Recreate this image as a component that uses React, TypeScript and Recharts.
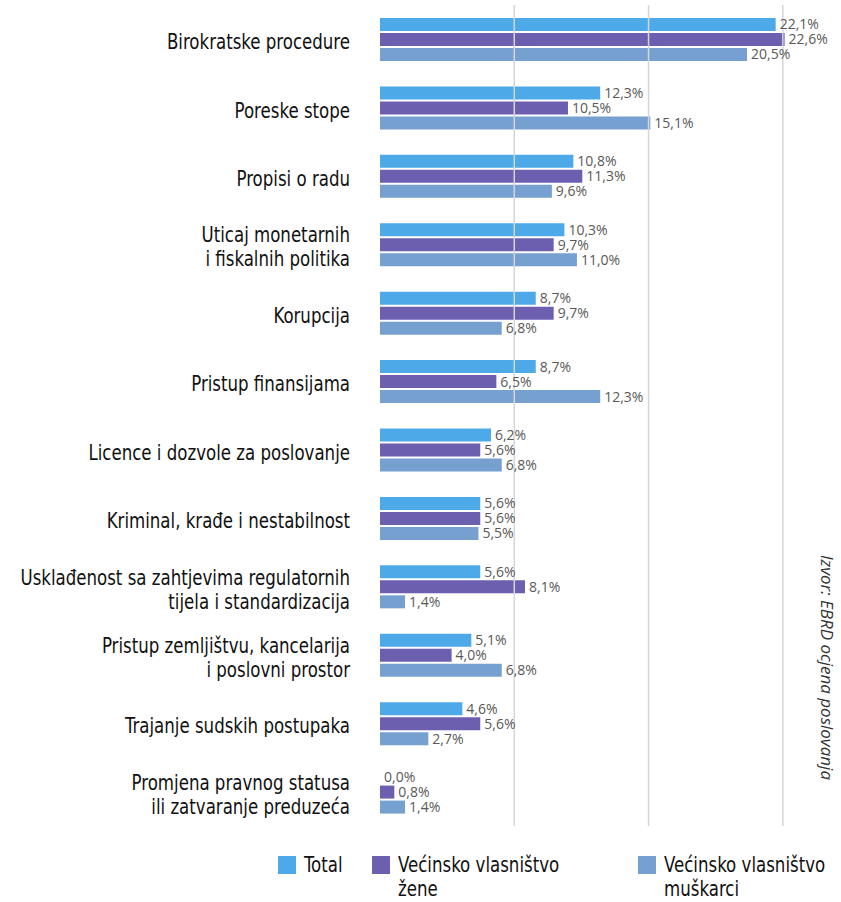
import { BarChart, Bar, XAxis, YAxis, ReferenceLine, LabelList } from "recharts";

const categories = [
  "Birokratske procedure",
  "Poreske stope",
  "Propisi o radu",
  "Uticaj monetarnih\ni fiskalnih politika",
  "Korupcija",
  "Pristup finansijama",
  "Licence i dozvole za poslovanje",
  "Kriminal, krađe i nestabilnost",
  "Usklađenost sa zahtjevima regulatornih\ntijela i standardizacija",
  "Pristup zemljištvu, kancelarija\ni poslovni prostor",
  "Trajanje sudskih postupaka",
  "Promjena pravnog statusa\nili zatvaranje preduzeća",
];
const total = [22.1, 12.3, 10.8, 10.3, 8.7, 8.7, 6.2, 5.6, 5.6, 5.1, 4.6, 0.0];
const zene = [22.6, 10.5, 11.3, 9.7, 9.7, 6.5, 5.6, 5.6, 8.1, 4.0, 5.6, 0.8];
const muskarci = [20.5, 15.1, 9.6, 11.0, 6.8, 12.3, 6.8, 5.5, 1.4, 6.8, 2.7, 1.4];
const gridTicks = [7.5, 15, 22.5];

const data = categories.map((name, i) => ({
  name,
  total: total[i],
  zene: zene[i],
  muskarci: muskarci[i],
}));

const COLORS = { total: "#4DA9E7", zene: "#6C5FB0", muskarci: "#76A0D0" };
const condensed = "'DejaVu Sans Condensed', 'DejaVu Sans', sans-serif";
const SQUEEZE = 0.88;
const pct = (v: unknown) => `${Number(v).toFixed(1).replace(".", ",")}%`;

function CategoryTick(props: any) {
  const { y, payload } = props;
  const lines = String(payload.value).split("\n");
  const lh = 24;
  const start = y - ((lines.length - 1) * lh) / 2 + 10;
  return (
    <g transform={`translate(350, ${start}) scale(${SQUEEZE}, 1)`}>
      <text x={0} y={0} textAnchor="end" fontFamily={condensed} fontSize={21} fill="#111">
        {lines.map((l, i) => (
          <tspan key={i} x={0} y={i * lh}>
            {l}
          </tspan>
        ))}
      </text>
    </g>
  );
}

const labelStyle = { fontSize: 14, fill: "#595959", fontFamily: "'Open Sans', sans-serif" };

function LegendItem({ x, color, lines }: { x: number; color: string; lines: string[] }) {
  return (
    <div style={{ position: "absolute", left: x, top: 853, display: "flex" }}>
      <div style={{ width: 18, height: 18, background: color, marginTop: 3, marginRight: 8 }} />
      <div
        style={{
          fontFamily: condensed,
          fontSize: 21,
          lineHeight: "24px",
          color: "#111",
          whiteSpace: "nowrap",
          transform: `scaleX(${SQUEEZE})`,
          transformOrigin: "left top",
        }}
      >
        {lines.map((l, i) => (
          <div key={i}>{l}</div>
        ))}
      </div>
    </div>
  );
}

export default function App() {
  return (
    <div style={{ position: "absolute", left: 0, top: 0, width: 841, height: 902, background: "#fff", overflow: "hidden" }}>
      <BarChart
        layout="vertical"
        width={841}
        height={831}
        data={data}
        margin={{ top: 5, right: 0, bottom: 5, left: 0 }}
        barSize={13}
        barGap={2}
      >
        <XAxis
          type="number"
          domain={[0, 25.75]}
          ticks={gridTicks}
          tick={false}
          tickLine={false}
          axisLine={false}
          height={0}
          allowDataOverflow
        />
        <YAxis
          type="category"
          dataKey="name"
          width={380}
          tickLine={false}
          axisLine={false}
          tick={<CategoryTick />}
          interval={0}
        />
        {gridTicks.map((t) => (
          <ReferenceLine key={t} x={t} stroke="#d6d6d6" strokeWidth={1.5} />
        ))}
        <Bar dataKey="total" fill={COLORS.total} minPointSize={0.01} isAnimationActive={false}>
          <LabelList dataKey="total" position="right" offset={4} formatter={pct} style={labelStyle} />
        </Bar>
        <Bar dataKey="zene" fill={COLORS.zene} isAnimationActive={false}>
          <LabelList dataKey="zene" position="right" offset={4} formatter={pct} style={labelStyle} />
        </Bar>
        <Bar dataKey="muskarci" fill={COLORS.muskarci} isAnimationActive={false}>
          <LabelList dataKey="muskarci" position="right" offset={4} formatter={pct} style={labelStyle} />
        </Bar>
      </BarChart>
      <LegendItem x={278} color={COLORS.total} lines={["Total"]} />
      <LegendItem x={372} color={COLORS.zene} lines={["Većinsko vlasništvo", "žene"]} />
      <LegendItem x={638} color={COLORS.muskarci} lines={["Većinsko vlasništvo", "muškarci"]} />
      <div
        style={{
          position: "absolute",
          left: 816,
          top: 555,
          writingMode: "vertical-rl",
          fontFamily: "'Open Sans', sans-serif",
          fontStyle: "italic",
          fontSize: 17,
          color: "#333",
          whiteSpace: "nowrap",
        }}
      >
        Izvor: EBRD ocjena poslovanja
      </div>
    </div>
  );
}
